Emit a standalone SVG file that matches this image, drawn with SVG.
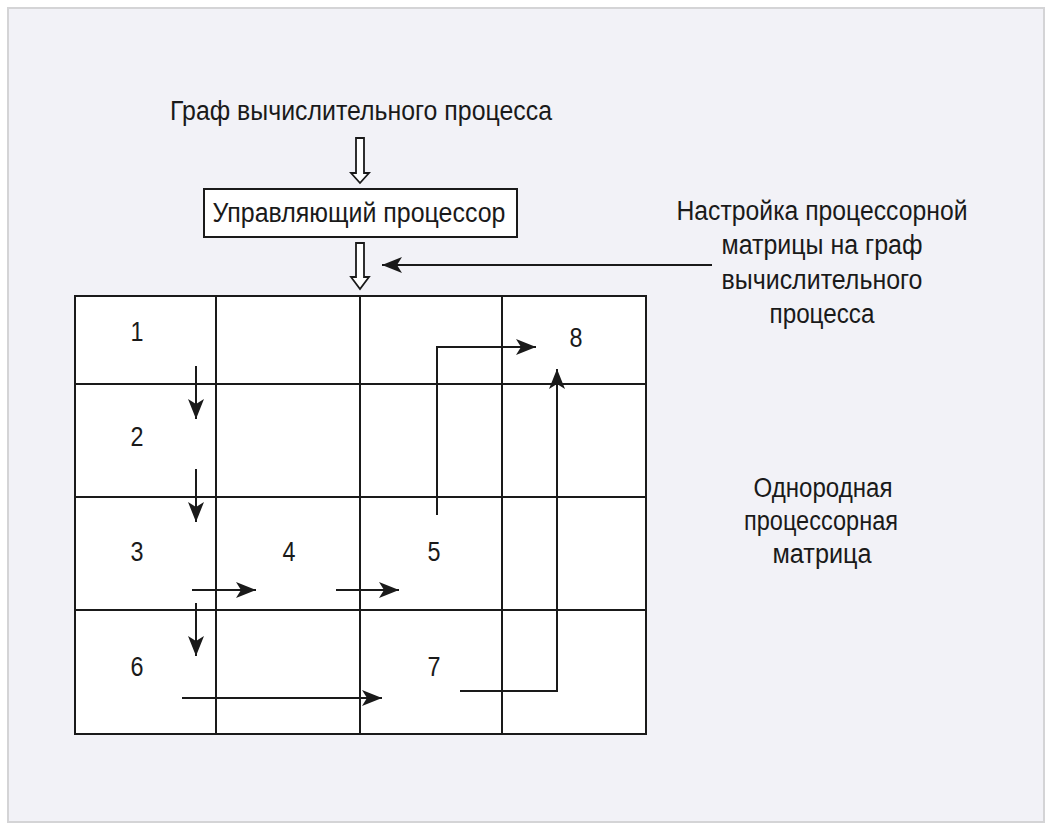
<svg xmlns="http://www.w3.org/2000/svg" width="1053" height="829" viewBox="0 0 1053 829">
<style>
.t{font-family:"Liberation Sans","DejaVu Sans",sans-serif;font-size:27px;fill:#1a1a1a;text-anchor:middle}
.n{font-family:"Liberation Sans","DejaVu Sans",sans-serif;font-size:27px;fill:#1a1a1a;text-anchor:middle}
.cell{fill:#fff;stroke:#1a1a1a;stroke-width:2}
.con{fill:none;stroke:#1a1a1a;stroke-width:2}
.hollow{fill:#fff;stroke:#1a1a1a;stroke-width:1.8;stroke-linejoin:miter}
</style>
<defs>
<marker id="ah" markerWidth="22" markerHeight="18" refX="20" refY="8" orient="auto" markerUnits="userSpaceOnUse">
<path d="M0,0 L20,8 L0,16 L5,8 Z" fill="#1a1a1a"/>
</marker>
</defs>
<rect x="8" y="8" width="1036" height="814" fill="#f2f2f7" stroke="#d4d4d6" stroke-width="2"/>

<g id="title"><text class="t" x="361" y="120" textLength="382" lengthAdjust="spacingAndGlyphs">Граф вычислительного процесса</text></g>

<g id="control-processor">
<rect x="204" y="189" width="313" height="48" fill="#fff" stroke="#1a1a1a" stroke-width="2"/>
<text class="t" x="359" y="222" textLength="293" lengthAdjust="spacingAndGlyphs">Управляющий процессор</text>
</g>

<g id="setup-label">
<text class="t" x="822" y="220" textLength="291" lengthAdjust="spacingAndGlyphs">Настройка процессорной</text>
<text class="t" x="822" y="254" textLength="201" lengthAdjust="spacingAndGlyphs">матрицы на граф</text>
<text class="t" x="822" y="289" textLength="201" lengthAdjust="spacingAndGlyphs">вычислительного</text>
<text class="t" x="822" y="323" textLength="105" lengthAdjust="spacingAndGlyphs">процесса</text>
</g>

<g id="matrix-label">
<text class="t" x="823" y="497" textLength="139" lengthAdjust="spacingAndGlyphs">Однородная</text>
<text class="t" x="821" y="530" textLength="154" lengthAdjust="spacingAndGlyphs">процессорная</text>
<text class="t" x="822" y="563" textLength="99" lengthAdjust="spacingAndGlyphs">матрица</text>
</g>

<g id="matrix">
<g id="cell-r1c1"><rect class="cell" x="75" y="296" width="141" height="88"/><text class="n" x="137" y="341" textLength="13" lengthAdjust="spacingAndGlyphs">1</text></g>
<g id="cell-r1c2"><rect class="cell" x="216" y="296" width="144" height="88"/></g>
<g id="cell-r1c3"><rect class="cell" x="360" y="296" width="142" height="88"/></g>
<g id="cell-r1c4"><rect class="cell" x="502" y="296" width="144" height="88"/><text class="n" x="576" y="347" textLength="13" lengthAdjust="spacingAndGlyphs">8</text></g>
<g id="cell-r2c1"><rect class="cell" x="75" y="384" width="141" height="113"/><text class="n" x="137" y="446" textLength="13" lengthAdjust="spacingAndGlyphs">2</text></g>
<g id="cell-r2c2"><rect class="cell" x="216" y="384" width="144" height="113"/></g>
<g id="cell-r2c3"><rect class="cell" x="360" y="384" width="142" height="113"/></g>
<g id="cell-r2c4"><rect class="cell" x="502" y="384" width="144" height="113"/></g>
<g id="cell-r3c1"><rect class="cell" x="75" y="497" width="141" height="113"/><text class="n" x="137" y="561" textLength="13" lengthAdjust="spacingAndGlyphs">3</text></g>
<g id="cell-r3c2"><rect class="cell" x="216" y="497" width="144" height="113"/><text class="n" x="289" y="561" textLength="13" lengthAdjust="spacingAndGlyphs">4</text></g>
<g id="cell-r3c3"><rect class="cell" x="360" y="497" width="142" height="113"/><text class="n" x="434" y="561" textLength="13" lengthAdjust="spacingAndGlyphs">5</text></g>
<g id="cell-r3c4"><rect class="cell" x="502" y="497" width="144" height="113"/></g>
<g id="cell-r4c1"><rect class="cell" x="75" y="610" width="141" height="124"/><text class="n" x="137" y="676" textLength="13" lengthAdjust="spacingAndGlyphs">6</text></g>
<g id="cell-r4c2"><rect class="cell" x="216" y="610" width="144" height="124"/></g>
<g id="cell-r4c3"><rect class="cell" x="360" y="610" width="142" height="124"/><text class="n" x="434" y="676" textLength="13" lengthAdjust="spacingAndGlyphs">7</text></g>
<g id="cell-r4c4"><rect class="cell" x="502" y="610" width="144" height="124"/></g>
</g>

<g id="connectors">
<path class="hollow" d="M356,138 L364,138 L364,173 L369,173 L360,183 L351,173 L356,173 Z"/>
<path class="hollow" d="M356,243 L364,243 L364,277 L369,277 L360,289 L351,277 L356,277 Z"/>
<path class="con" d="M712,265 H382" marker-end="url(#ah)"/>
<path class="con" d="M196,366 V419" marker-end="url(#ah)"/>
<path class="con" d="M196,469 V522" marker-end="url(#ah)"/>
<path class="con" d="M192,590 H256" marker-end="url(#ah)"/>
<path class="con" d="M336,590 H399" marker-end="url(#ah)"/>
<path class="con" d="M196,603 V656" marker-end="url(#ah)"/>
<path class="con" d="M182,698 H382" marker-end="url(#ah)"/>
<path class="con" d="M460,691 H557 V369" marker-end="url(#ah)"/>
<path class="con" d="M437,515 V347 H536" marker-end="url(#ah)"/>
</g>
</svg>
